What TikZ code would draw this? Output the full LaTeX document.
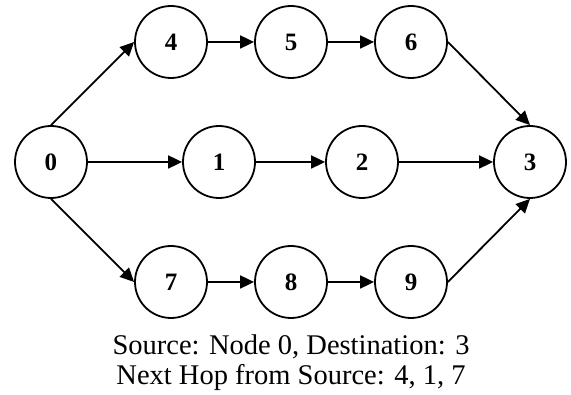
\documentclass[tikz,border=0pt]{standalone}
\usepackage{fontspec}
\setmainfont{Liberation Serif}
\usetikzlibrary{arrows.meta}
\begin{document}
\begin{tikzpicture}[x=1pt,y=1pt,
  nd/.style={circle,draw,line width=1.8pt,minimum size=72pt,inner sep=0pt,
    font=\fontsize{25}{28}\selectfont\bfseries},
  arr/.style={line width=1.8pt,-{Triangle[length=14pt,width=13pt]}},
  captext/.style={anchor=base,inner sep=0pt,font=\fontsize{28.5}{30}\selectfont}]
\useasboundingbox (0,0) rectangle (571,395);
\node[nd] (n0) at (51,233) {0};
\node[nd] (n4) at (171,353) {4};
\node[nd] (n5) at (291,353) {5};
\node[nd] (n6) at (411,353) {6};
\node[nd] (n1) at (219,233) {1};
\node[nd] (n2) at (362,233) {2};
\node[nd] (n3) at (530,233) {3};
\node[nd] (n7) at (171,113) {7};
\node[nd] (n8) at (291,113) {8};
\node[nd] (n9) at (411,113) {9};
\draw[arr] (n0.north) -- (n4.west);
\draw[arr] (n4) -- (n5);
\draw[arr] (n5) -- (n6);
\draw[arr] (n6.east) -- (n3.north);
\draw[arr] (n0) -- (n1);
\draw[arr] (n1) -- (n2);
\draw[arr] (n2) -- (n3);
\draw[arr] (n0.south) -- (n7.west);
\draw[arr] (n7) -- (n8);
\draw[arr] (n8) -- (n9);
\draw[arr] (n9.east) -- (n3.south);
\node[captext] (c1) at (291,40) {Source: Node 0, Destination: 3};
\node[captext] (c2) at (291,10) {Next Hop from Source: 4, 1, 7};
\end{tikzpicture}
\end{document}
